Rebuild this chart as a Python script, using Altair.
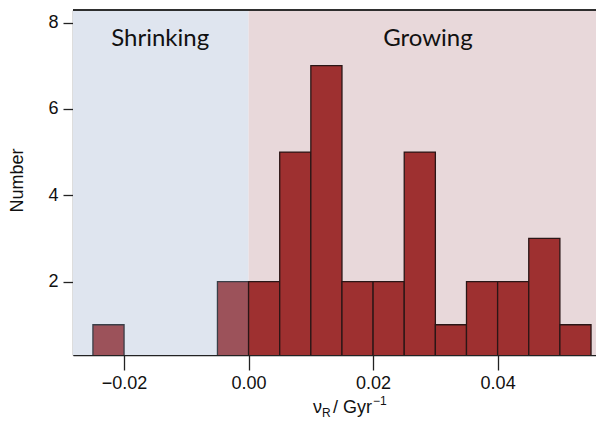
import altair as alt
import pandas as pd

# ---- data ----
bin_starts = [-0.025, -0.005, 0.000, 0.005, 0.010, 0.015, 0.020, 0.025, 0.030, 0.035, 0.040, 0.045, 0.050]
counts = [1, 2, 2, 5, 7, 2, 2, 5, 1, 2, 2, 3, 1]
bin_width = 0.005

x_ticks = [-0.02, 0.0, 0.02, 0.04]
y_ticks = [2, 4, 6, 8]
x_domain = [-0.0282, 0.0558]
y_domain = [0.30, 8.29]

region_names = ["Shrinking", "Growing"]
region_lo = [x_domain[0], 0.0]
region_hi = [0.0, x_domain[1]]
region_bg = ["#dfe5ef", "#e8d8da"]
region_label_x = [-0.0142, 0.0288]
region_label_y = [7.46, 7.46]

W, H = 523, 345

bars = pd.DataFrame({
    "start": bin_starts,
    "end": [s + bin_width for s in bin_starts],
    "count": counts,
    "base": [0] * len(counts),
})
bars["fill"] = ["#9c525a" if s < 0 else "#9e3030" for s in bin_starts]
bars["edge"] = ["#3a3f48" if s < 0 else "#2a1616" for s in bin_starts]

regions = pd.DataFrame({
    "name": region_names,
    "lo": region_lo,
    "hi": region_hi,
    "bg": region_bg,
    "ymin": [y_domain[0]] * 2,
    "ymax": [y_domain[1]] * 2,
    "lx": region_label_x,
    "ly": region_label_y,
})

xscale = alt.Scale(domain=x_domain, nice=False, zero=False)
yscale = alt.Scale(domain=y_domain, nice=False, zero=False)

FONT = "Liberation Sans, Arial, Helvetica, sans-serif"

axis_common = dict(
    grid=False,
    domainColor="#222222",
    domainWidth=1.3,
    tickColor="#222222",
    tickWidth=1.3,
    labelFont=FONT,
    labelFontSize=18,
    labelColor="#111111",
    titleFont=FONT,
    titleFontSize=18,
    titleFontWeight="normal",
    titleColor="#111111",
)

bg = alt.Chart(regions).mark_rect(clip=True).encode(
    x=alt.X("lo:Q", scale=xscale,
            axis=alt.Axis(values=x_ticks, format=".2f", tickSize=15, labelPadding=4,
                          title="", **axis_common)),
    x2="hi:Q",
    y=alt.Y("ymin:Q", scale=yscale,
            axis=alt.Axis(values=y_ticks, tickSize=10, labelPadding=5,
                          title="Number", titleX=-56, titleY=170, titleBaseline="middle",
                          titleAlign="center", titleAngle=270, **axis_common)),
    y2="ymax:Q",
    fill=alt.Fill("bg:N", scale=None),
)

hist = alt.Chart(bars).mark_rect(clip=True, strokeWidth=1.3).encode(
    x=alt.X("start:Q", scale=xscale),
    x2="end:Q",
    y=alt.Y("count:Q", scale=yscale),
    y2="base:Q",
    fill=alt.Fill("fill:N", scale=None),
    stroke=alt.Stroke("edge:N", scale=None),
)

labels = alt.Chart(regions).mark_text(
    font="Lato", fontSize=24, color="#111111", align="center", baseline="alphabetic"
).encode(
    x=alt.X("lx:Q", scale=xscale),
    y=alt.Y("ly:Q", scale=yscale),
    text="name:N",
)

top_line = alt.Chart(regions).mark_rule(color="#222222", strokeWidth=1.3).encode(
    x=alt.value(0), x2=alt.value(W), y=alt.value(0)
)

# composite x-axis title: ν_R / Gyr^-1
title_parts = pd.DataFrame({
    "t": ["ν", "R", "/ Gyr", "−1"],
    "px": [240, 249, 260, 300],
    "py": [403, 407, 403, 395],
    "sz": [18, 12, 18, 12],
})
xtitle = alt.Chart(title_parts).mark_text(
    font=FONT, color="#111111", align="left", baseline="alphabetic"
).encode(
    x=alt.X("px:Q", scale=None),
    y=alt.Y("py:Q", scale=None),
    text="t:N",
    size=alt.Size("sz:Q", scale=None),
)

chart = alt.layer(bg, hist, labels, top_line, xtitle).properties(
    width=W,
    height=H,
    autosize=alt.AutoSizeParams(type="none"),
    padding={"left": 65, "top": 2, "right": 0, "bottom": 64},
).configure_view(stroke=None).configure(background="white")

chart.save("out.html", embed_options={"renderer": "svg", "actions": False})
